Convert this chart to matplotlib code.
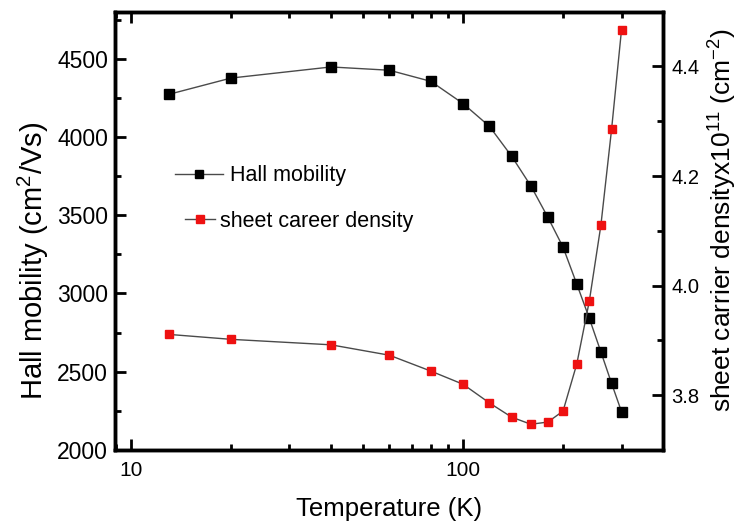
import matplotlib
matplotlib.use("Agg")
import matplotlib.pyplot as plt
from matplotlib.ticker import LogLocator, NullFormatter, MultipleLocator, FixedLocator, FixedFormatter

plt.rcParams['font.family'] = ['Liberation Sans', 'DejaVu Sans']
plt.rcParams['mathtext.fontset'] = 'custom'
plt.rcParams['mathtext.rm'] = 'Liberation Sans'
plt.rcParams['mathtext.it'] = 'Liberation Sans'

temperature = [13, 20, 40, 60, 80, 100, 120, 140, 160, 180, 200, 220, 240, 260, 280, 300]
hall_mobility = [4272, 4376, 4447, 4426, 4355, 4213, 4068, 3877, 3687, 3487, 3296, 3060, 2841, 2627, 2426, 2245]
sheet_density = [3.911, 3.902, 3.892, 3.873, 3.844, 3.820, 3.786, 3.760, 3.747, 3.751, 3.771, 3.857, 3.972, 4.110, 4.285, 4.467]

W, H = 740, 524
fig = plt.figure(figsize=(W / 100, H / 100), dpi=100)
ax = fig.add_axes([115 / W, 1 - 450 / H, (663 - 115) / W, (450 - 11.7) / H])
ax2 = ax.twinx()

line_col = '#4a4a4a'
h1, = ax.plot(temperature, hall_mobility, '-', color=line_col, lw=1.0, marker='s', ms=7,
              mew=1, mfc='black', mec='black', label='Hall mobility', zorder=3)
h2, = ax2.plot(temperature, sheet_density, '-', color=line_col, lw=1.0, marker='s', ms=6,
               mew=1, mfc='#ee1111', mec='#ee1111', label='sheet career density', zorder=3)

ax.set_xscale('log')
ax.set_xlim(8.95, 400)
ax.set_ylim(2000, 4800)
ax2.set_ylim(3.7, 4.5)

ax.xaxis.set_major_locator(FixedLocator([10, 100]))
ax.xaxis.set_major_formatter(FixedFormatter(['10', '100']))
ax.xaxis.set_minor_locator(LogLocator(base=10, subs=range(2, 10)))
ax.xaxis.set_minor_formatter(NullFormatter())

ax.yaxis.set_major_locator(MultipleLocator(500))
ax.yaxis.set_minor_locator(MultipleLocator(250))
ax2.yaxis.set_major_locator(FixedLocator([3.8, 4.0, 4.2, 4.4]))
ax2.yaxis.set_major_formatter(FixedFormatter(['3.8', '4.0', '4.2', '4.4']))
ax2.yaxis.set_minor_locator(MultipleLocator(0.1))

for a in (ax, ax2):
    for s in a.spines.values():
        s.set_linewidth(2.5)
ax.tick_params(axis='both', which='major', direction='in', length=8, width=2)
ax.tick_params(axis='both', which='minor', direction='in', length=4.5, width=2)
ax.tick_params(axis='x', top=True, which='both', labelsize=15, pad=8)
ax.tick_params(axis='y', right=False, which='both', labelsize=16.5, pad=5)
ax2.tick_params(axis='y', which='major', direction='in', length=8, width=2, labelsize=14.5, pad=6)
ax2.tick_params(axis='y', which='minor', direction='in', length=4.5, width=2)

ax.set_xlabel('Temperature (K)', fontsize=18.5, labelpad=12)
ax.set_ylabel('Hall mobility (cm$^2$/Vs)', fontsize=21, labelpad=4)
ax.yaxis.label.set_y(0.431)
ax2.set_ylabel('sheet carrier densityx10$^{11}$ (cm$^{-2}$)', fontsize=19, labelpad=5)
ax2.yaxis.label.set_y(0.525)

leg1 = ax2.legend([h1], ['Hall mobility'], loc='center left',
                  bbox_to_anchor=(175 / W, 1 - 176 / H), bbox_transform=fig.transFigure,
                  frameon=False, fontsize=15.5, handlelength=2.23, handletextpad=0.33,
                  borderpad=0, borderaxespad=0, markerscale=0.75)
ax2.add_artist(leg1)
leg2 = ax2.legend([h2], ['sheet career density'], loc='center left',
                  bbox_to_anchor=(185 / W, 1 - 221 / H), bbox_transform=fig.transFigure,
                  frameon=False, fontsize=15.5, handlelength=1.4, handletextpad=0.23,
                  borderpad=0, borderaxespad=0, markerscale=0.85)

fig.savefig('out.png', dpi=100)
